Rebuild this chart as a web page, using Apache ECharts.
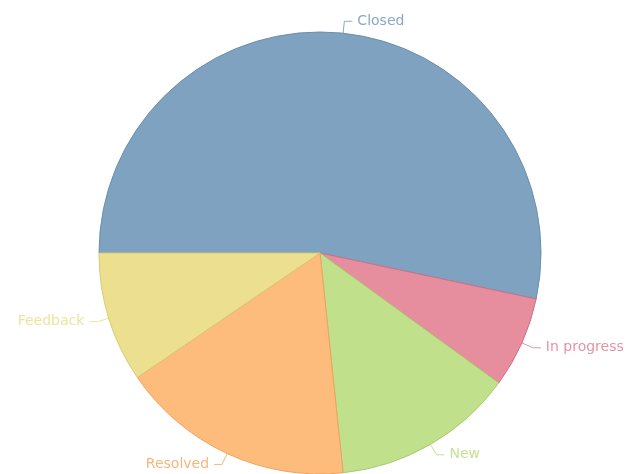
<!DOCTYPE html>
<html>
<head>
<meta charset="utf-8"/>
<title>Issues by status</title>
<script src="https://cdn.jsdelivr.net/npm/echarts@6/dist/echarts.min.js"></script>
<style>
  html, body { margin: 0; padding: 0; background: #fff; }
  #main { width: 628px; height: 474px; }
</style>
</head>
<body>
<div id="main"></div>
<script type="text/javascript">
// status names and issue counts
var statuses = ['Closed', 'In progress', 'New', 'Resolved', 'Feedback'];
var counts = [56, 7, 14, 18, 10];

var fills = ['#7ea2bf', '#e68e9e', '#c1e08b', '#fdbb7c', '#ecdf8f'];
var edges = ['#6a8fae', '#d36f84', '#a9cc6f', '#f0a35c', '#d9ca70'];
var texts = ['#8aa8c3', '#e395a5', '#c6e196', '#f6b67e', '#efe39c'];

var data = [];
for (var i = 0; i < statuses.length; i++) {
    data.push({
        name: statuses[i],
        value: counts[i],
        itemStyle: { color: fills[i], borderColor: edges[i], borderWidth: 1 },
        label: { color: texts[i] },
        labelLine: { lineStyle: { color: texts[i] } }
    });
}

var myChart = echarts.init(document.getElementById('main'));
var option = {
    backgroundColor: '#ffffff',
    animation: false,
    series: [{
        type: 'pie',
        center: [320, 253],
        radius: 221,
        startAngle: 180,
        clockwise: true,
        label: {
            show: true,
            overflow: 'none',
            edgeDistance: 0,
            fontFamily: 'DejaVu Sans, Verdana, sans-serif',
            fontSize: 14
        },
        labelLine: {
            show: true,
            length: 12,
            length2: 8,
            lineStyle: { width: 1 }
        },
        emphasis: { disabled: true },
        data: data
    }]
};
myChart.setOption(option);
</script>
</body>
</html>
